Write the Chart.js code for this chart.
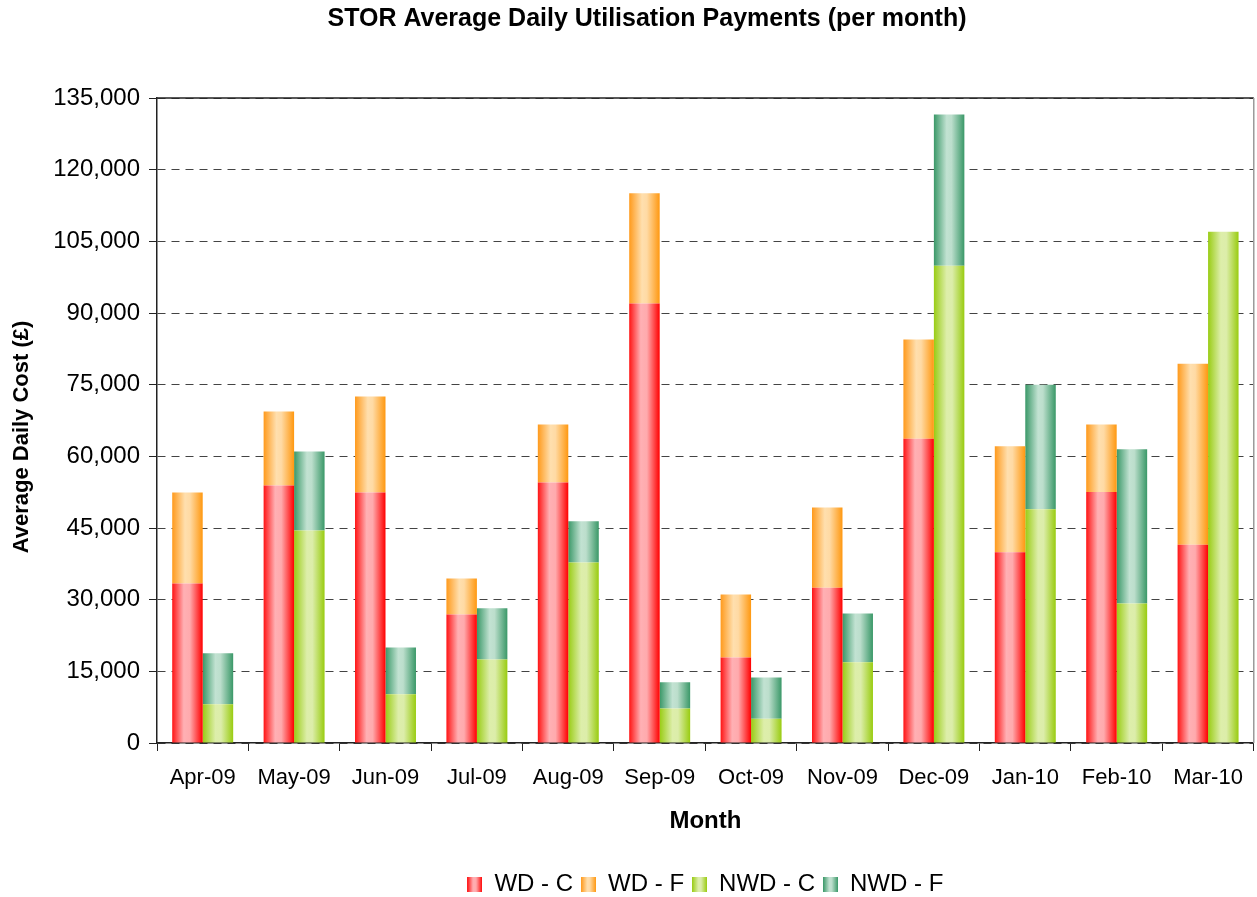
<!DOCTYPE html>
<html>
<head>
<meta charset="utf-8">
<script src="https://cdn.jsdelivr.net/npm/chart.js@4.4.1/dist/chart.umd.min.js"></script>
<style>
html, body { margin: 0; padding: 0; background: #fff; }
#wrap { width: 1257px; height: 897px; }
</style>
</head>
<body>
<div id="wrap"><canvas id="myChart" width="1257" height="897"></canvas></div>
<script>
var chartTitle = "STOR Average Daily Utilisation Payments (per month)";
var yTitle = "Average Daily Cost (£)";
var xTitle = "Month";
var months = ["Apr-09", "May-09", "Jun-09", "Jul-09", "Aug-09", "Sep-09", "Oct-09", "Nov-09", "Dec-09", "Jan-10", "Feb-10", "Mar-10"];
// stacked segments (WD stack, NWD stack)
var wdC = [33400, 53900, 52450, 26900, 54500, 92000, 17900, 32500, 63700, 39900, 52550, 41500];
var wdF = [19050, 15500, 20050, 7550, 12150, 23050, 13170, 16800, 20750, 22200, 14120, 37900];
var nwdC = [8100, 44500, 10200, 17500, 37800, 7200, 5100, 16900, 99900, 48900, 29200, 107000];
var nwdF = [10670, 16500, 9800, 10700, 8600, 5500, 8600, 10200, 31650, 26100, 32290, 0];
var yTicks = [0, 15000, 30000, 45000, 60000, 75000, 90000, 105000, 120000, 135000];

var redStops = [[0, "#ff1414"], [0.38, "#ffb0b4"], [0.58, "#ffaaad"], [1, "#ff0000"]];
var orangeStops = [[0, "#ff9a1c"], [0.42, "#ffdfae"], [0.58, "#ffdaa4"], [1, "#ff9810"]];
var limeStops = [[0, "#99cc14"], [0.42, "#ddeeaa"], [0.6, "#dcedaa"], [1, "#99cc10"]];
var tealStops = [[0, "#3a9868"], [0.42, "#c2e2d2"], [0.58, "#bcdecc"], [1, "#3a9868"]];

var CAT_PCT = 0.667;
var FONT = '"Liberation Sans", Arial, sans-serif';
Chart.defaults.font.family = FONT;
Chart.defaults.color = "#000";

function barGradient(stops, side) {
    return function (c) {
        var chart = c.chart;
        var area = chart.chartArea;
        if (c.type !== "data" || !area) return stops[1][1];
        var xs = chart.scales.x;
        var catW = (area.right - area.left) / months.length;
        var barW = catW * CAT_PCT / 2;
        var cx = xs.getPixelForValue(c.dataIndex);
        var x0 = side === 0 ? cx - barW : cx;
        var g = chart.ctx.createLinearGradient(x0, 0, x0 + barW, 0);
        stops.forEach(function (s) { g.addColorStop(s[0], s[1]); });
        return g;
    };
}

function swatch(stops) {
    var cv = document.createElement("canvas");
    cv.width = 15;
    cv.height = 15;
    var c2 = cv.getContext("2d");
    var g = c2.createLinearGradient(0, 0, 15, 0);
    stops.forEach(function (s) { g.addColorStop(s[0], s[1]); });
    c2.fillStyle = g;
    c2.fillRect(0, 0, 15, 15);
    return cv;
}

var titlePlugin = {
    id: "titles",
    afterDraw: function (chart) {
        var ctx = chart.ctx;
        var a = chart.chartArea;
        ctx.save();
        ctx.lineWidth = 1.5;
        ctx.strokeStyle = "#222";
        ctx.beginPath();
        ctx.moveTo(a.left, a.top);
        ctx.lineTo(a.right, a.top);
        ctx.stroke();
        ctx.strokeStyle = "#9a9a9a";
        ctx.beginPath();
        ctx.moveTo(a.right, a.top);
        ctx.lineTo(a.right, a.bottom);
        ctx.stroke();
        ctx.fillStyle = "#000";
        ctx.textAlign = "center";
        ctx.textBaseline = "middle";
        ctx.font = "bold 25px " + FONT;
        ctx.fillText(chartTitle, 647, 19);
        ctx.translate(22, 437);
        ctx.rotate(-Math.PI / 2);
        ctx.font = "bold 22px " + FONT;
        ctx.fillText(yTitle, 0, 0);
        ctx.restore();
    }
};

var datasets = [
    { label: "WD - C", data: wdC, stack: "WD", stops: redStops, backgroundColor: barGradient(redStops, 0) },
    { label: "WD - F", data: wdF, stack: "WD", stops: orangeStops, backgroundColor: barGradient(orangeStops, 0) },
    { label: "NWD - C", data: nwdC, stack: "NWD", stops: limeStops, backgroundColor: barGradient(limeStops, 1) },
    { label: "NWD - F", data: nwdF, stack: "NWD", stops: tealStops, backgroundColor: barGradient(tealStops, 1) }
];
datasets.forEach(function (d) {
    d.borderWidth = 0;
    d.categoryPercentage = CAT_PCT;
    d.barPercentage = 1.0;
});

var ctx = document.getElementById("myChart").getContext("2d");
var chart = new Chart(ctx, {
    type: "bar",
    data: { labels: months, datasets: datasets },
    plugins: [titlePlugin],
    options: {
        responsive: false,
        animation: false,
        layout: { padding: { top: 98, right: 2, left: 0, bottom: -9 } },
        plugins: {
            title: { display: false },
            tooltip: { enabled: false },
            legend: {
                position: "bottom",
                fullSize: false,
                labels: {
                    usePointStyle: true,
                    boxWidth: 15,
                    boxHeight: 15,
                    padding: 8,
                    font: { size: 24 },
                    color: "#000",
                    generateLabels: function (ch) {
                        return ch.data.datasets.map(function (ds, i) {
                            return {
                                text: ds.label,
                                pointStyle: swatch(ds.stops),
                                fillStyle: ds.stops[1][1],
                                strokeStyle: "transparent",
                                lineWidth: 0,
                                hidden: false,
                                datasetIndex: i,
                                fontColor: "#000"
                            };
                        });
                    }
                }
            }
        },
        scales: {
            x: {
                stacked: true,
                afterFit: function (s) { s.height = 121; },
                grid: { drawOnChartArea: false, drawTicks: true, tickLength: 8, tickColor: "#222", offset: true },
                border: { color: "#222", width: 1.5 },
                ticks: { font: { size: 22 }, color: "#000", padding: 14, maxRotation: 0, autoSkip: false },
                title: { display: true, text: xTitle, font: { size: 24, weight: "bold" }, color: "#000", padding: { top: 4, bottom: 28 } }
            },
            y: {
                stacked: true,
                min: 0,
                max: 135000,
                afterFit: function (s) { s.width = 157; },
                afterBuildTicks: function (s) { s.ticks = yTicks.map(function (v) { return { value: v }; }); },
                grid: { color: "#444", lineWidth: 1, tickLength: 8, tickColor: "#222", tickBorderDash: [] },
                border: { color: "#222", width: 1.5, dash: [8, 6] },
                ticks: {
                    font: { size: 24 },
                    color: "#000",
                    padding: 9,
                    callback: function (v) { return Number(v).toLocaleString("en-US"); }
                }
            }
        }
    }
});
</script>
</body>
</html>
